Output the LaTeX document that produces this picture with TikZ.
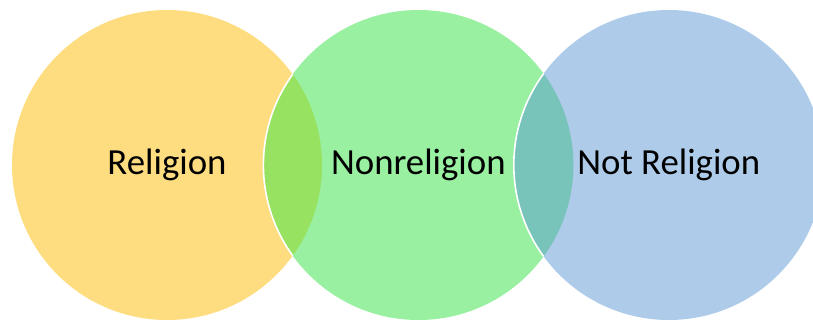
\documentclass[tikz,border=0pt]{standalone}
\usepackage{fontspec}
\setmainfont{Carlito}
\usetikzlibrary{positioning}
\definecolor{relyellow}{RGB}{254,220,128}
\definecolor{nongreen}{RGB}{152,240,160}
\definecolor{notblue}{RGB}{174,204,234}
\definecolor{lensleft}{RGB}{152,226,98}
\definecolor{lensright}{RGB}{120,196,186}

\begin{document}
\begin{tikzpicture}[x=1pt,y=1pt,
  set/.style={circle,minimum size=310pt,inner sep=0pt,font=\fontsize{36.8}{44}\selectfont},
  rim/.style={draw=white,line width=1.6pt}]
\useasboundingbox (0,0) rectangle (813,322);
\node[set,fill=relyellow] (rel) at (167,157) {Religion};
\node[set,fill=nongreen,right=-59pt of rel] (nonrel) {Nonreligion};
\node[set,fill=notblue,right=-60pt of nonrel] (notrel) {Not Religion};
\begin{scope}
\clip (rel.center) circle[radius=155pt];
\fill[lensleft] (nonrel.center) circle[radius=155pt];
\draw[rim] (nonrel.center) circle[radius=155pt];
\end{scope}
\begin{scope}
\clip (nonrel.center) circle[radius=155pt];
\fill[lensright] (notrel.center) circle[radius=155pt];
\draw[rim] (notrel.center) circle[radius=155pt];
\end{scope}
\end{tikzpicture}
\end{document}
